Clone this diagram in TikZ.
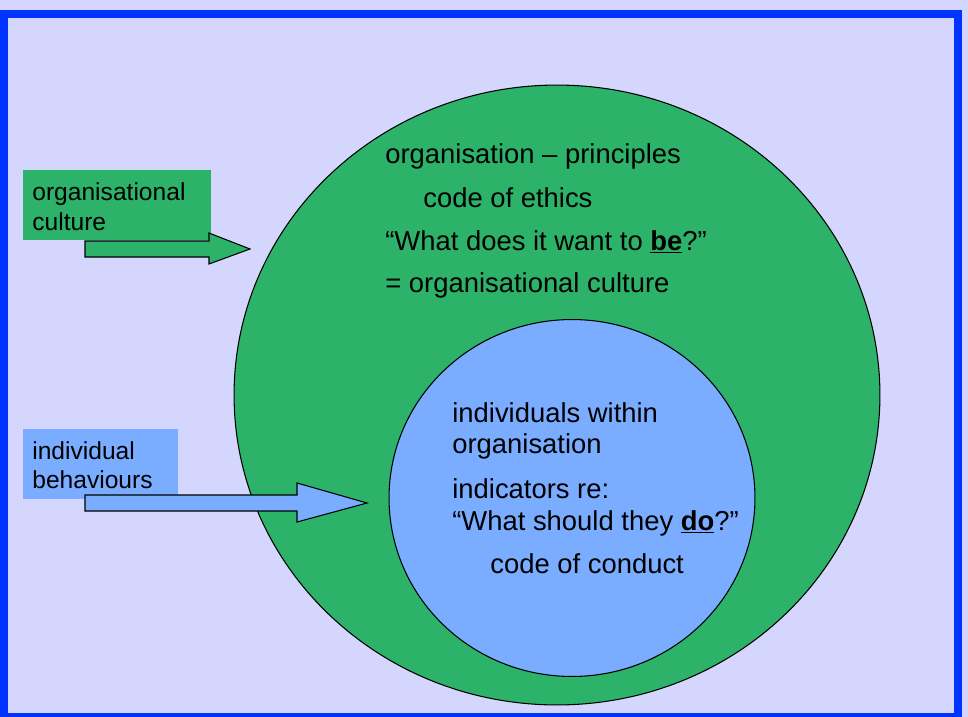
\documentclass[tikz,border=0pt]{standalone}
\usepackage{fontspec}
\setmainfont{Liberation Sans}
\usetikzlibrary{shapes.geometric}

\definecolor{slidebg}{RGB}{213,214,254}
\definecolor{slideblue}{RGB}{0,51,255}
\definecolor{cultgreen}{RGB}{45,178,105}
\definecolor{behavblue}{RGB}{122,172,255}

\tikzset{
	bigtext/.style={anchor=base west,inner sep=0pt,font=\fontsize{15.6}{18}\selectfont},
	boxtext/.style={anchor=base west,inner sep=0pt,font=\fontsize{14}{17}\selectfont},
	ring/.style={ellipse,draw=black,line width=0.6pt,inner sep=0pt},
	labelbox/.style={rectangle,inner sep=0pt,minimum height=1.4cm},
	fatarrow/.style={draw=black,line width=0.6pt,line join=miter}
}

\begin{document}
\begin{tikzpicture}[x=0.02cm,y=-0.02cm]
		\fill[slidebg] (0,0) rectangle (968,717);
		\useasboundingbox (0,0) rectangle (968,717);
		\draw[slideblue,line width=0.16cm] (4,14) rectangle (958,717);
		% rings
		\node[ring,fill=cultgreen,minimum width=12.92cm,minimum height=12.4cm] (orgring) at (557,395) {};
		\node[ring,fill=behavblue,minimum width=7.32cm,minimum height=7.14cm] (indring) at (572,498) {};
		% text in the outer ring
		\node[bigtext] (principles) at (385,163) {organisation – principles};
		\node[bigtext] (ethics) at (423,207) {code of ethics};
		\node[bigtext] (bequestion) at (385,250) {“What does it want to \underline{\textbf{be}}?”};
		\node[bigtext] (orgculture) at (385,292) {= organisational culture};
		% text in the inner ring
		\node[bigtext] (within1) at (452,422) {individuals within};
		\node[bigtext] (within2) at (452,453) {organisation};
		\node[bigtext] (indicators) at (452,498) {indicators re:};
		\node[bigtext] (doquestion) at (452,530) {“What should they \underline{\textbf{do}}?”};
		\node[bigtext] (conduct) at (490,573) {code of conduct};
		% left labels
		\node[labelbox,fill=cultgreen,minimum width=3.76cm] (cultbox) at (117,205) {};
		\node[boxtext] (culttxt1) at (32,200) {organisational};
		\node[boxtext] (culttxt2) at (32,230) {culture};
		\node[labelbox,fill=behavblue,minimum width=3.1cm] (behavbox) at (100.5,464) {};
		\node[boxtext] (behavtxt1) at (32,459) {individual};
		\node[boxtext] (behavtxt2) at (32,488) {behaviours};
		% block arrows
		\coordinate (cultstart) at (85,249);
		\coordinate (culttip) at (250,249);
		\draw[fatarrow,fill=cultgreen] (cultstart) ++(0,-8) -- ++(124,0) -- ++(0,-8) -- (culttip) -- ++(-41,15) -- ++(0,-7) -- ++(-124,0) -- cycle;
		\coordinate (behavstart) at (85,503);
		\coordinate (behavtip) at (367,503);
		\draw[fatarrow,fill=behavblue] (behavstart) ++(0,-8) -- ++(212,0) -- ++(0,-12) -- (behavtip) -- ++(-70,19) -- ++(0,-11) -- ++(-212,0) -- cycle;
\end{tikzpicture}
\end{document}
